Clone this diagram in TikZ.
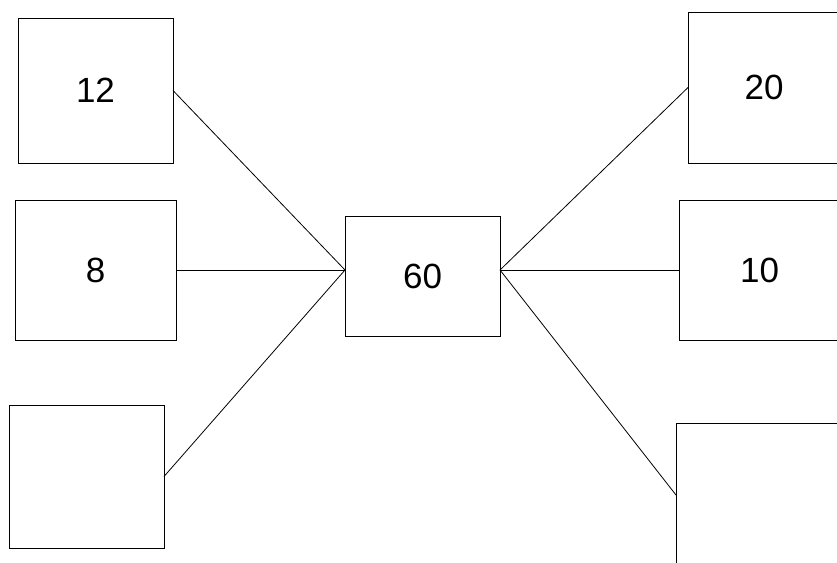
\documentclass[tikz,border=0pt]{standalone}
\usepackage{fontspec}
\setmainfont{Liberation Sans}
\usetikzlibrary{positioning}
\tikzset{
  box/.style={draw, line width=1pt, inner sep=0pt, outer sep=0pt,
    font=\fontsize{35}{40}\selectfont},
  link/.style={line width=0.8pt}
}
\begin{document}
\begin{tikzpicture}[x=1pt,y=-1pt]
    \useasboundingbox (0,0) rectangle (837,562);
    % left column
    \node[box, minimum width=155pt, minimum height=145pt] (b12) at (95.5,90.5) {12};
    \node[box, minimum width=161pt, minimum height=140pt] (b8) at (95.5,270) {8};
    \node[box, minimum width=155pt, minimum height=143pt] (bl) at (86.5,476.5) {};
    % middle
    \node[box, minimum width=155pt, minimum height=120pt] (b60) at (422.5,276) {60};
    % right column
    \node[box, minimum width=152pt, minimum height=151pt] (b20) at (764,87.5) {20};
    \node[box, minimum width=161pt, minimum height=140pt] (b10) at (759.5,270) {10};
    \node[box, minimum width=164pt, minimum height=144pt] (br) at (758,495) {};
    \coordinate (cin) at ([yshift=6pt]b60.west);
    \coordinate (cout) at ([yshift=6pt]b60.east);
    \draw[link] (b12.east) -- (cin);
    \draw[link] (b8.east) -- (cin);
    \draw[link] (bl.east) -- (cin);
    \draw[link] (cout) -- (b20.west);
    \draw[link] (cout) -- (b10.west);
    \draw[link] (cout) -- (br.west);
\end{tikzpicture}
\end{document}
